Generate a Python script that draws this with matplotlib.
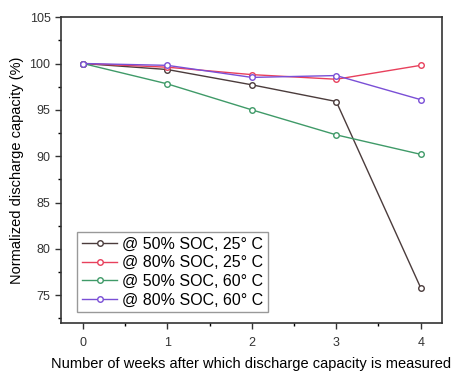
import matplotlib
matplotlib.use("Agg")
import matplotlib.pyplot as plt
from matplotlib.ticker import MultipleLocator

weeks = [0, 1, 2, 3, 4]
soc50_25 = [100, 99.35, 97.7, 95.9, 75.8]
soc80_25 = [100, 99.6, 98.8, 98.3, 99.8]
soc50_60 = [100, 97.8, 95.0, 92.3, 90.2]
soc80_60 = [100, 99.8, 98.5, 98.7, 96.1]

labels = ['@ 50% SOC, 25° C', '@ 80% SOC, 25° C',
          '@ 50% SOC, 60° C', '@ 80% SOC, 60° C']
colors = ['#4b3c3c', '#e8405c', '#3f9a68', '#7a4fd6']

plt.rcParams['font.family'] = ['Liberation Sans', 'DejaVu Sans']
fig = plt.figure(figsize=(4.69, 3.73), dpi=100)
ax = fig.add_axes([0.130, 0.134, 0.812, 0.820])

for ys, c, lab in zip([soc50_25, soc80_25, soc50_60, soc80_60], colors, labels):
    ax.plot(weeks, ys, '-o', color=c, lw=1.0, ms=4, mfc='white',
            mec=c, mew=1.0, label=lab)

ax.set_xlim(-0.26, 4.25)
ax.set_ylim(72, 105)
ax.set_xticks(weeks)
ax.yaxis.set_major_locator(MultipleLocator(5))
ax.yaxis.set_minor_locator(MultipleLocator(2.5))
ax.xaxis.set_minor_locator(MultipleLocator(0.5))
ax.tick_params(which='major', direction='out', length=4, width=1, labelsize=9, colors='#333333')
ax.tick_params(axis='x', which='major', pad=6)
ax.tick_params(which='minor', direction='out', length=2, width=1)
for s in ax.spines.values():
    s.set_linewidth(1.2)
    s.set_color('#333333')

ax.set_xlabel('Number of weeks after which discharge capacity is measured',
              fontsize=10.5, labelpad=6)
ax.set_ylabel('Normalized discharge capacity (%)', fontsize=10.5, labelpad=4)

ax.legend(loc='lower left', bbox_to_anchor=(0.035, 0.025), fontsize=11.5,
          frameon=True, fancybox=False, edgecolor='#999999', framealpha=1,
          handlelength=2.2, handletextpad=0.3, labelspacing=0.22,
          borderpad=0.3, borderaxespad=0.2)

fig.savefig('out.png', dpi=100)
